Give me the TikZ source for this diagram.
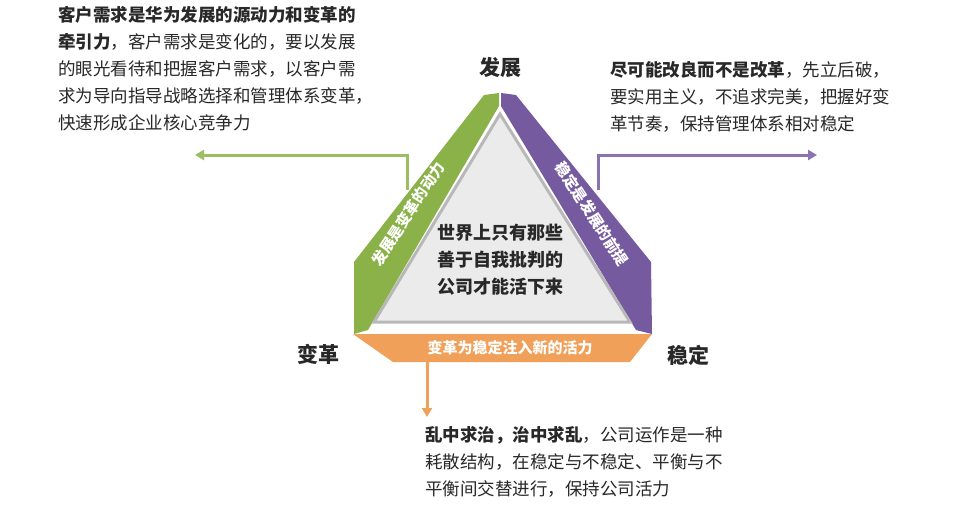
\documentclass[tikz,border=0pt]{standalone}
\usepackage{fontspec}
\setmainfont{Noto Sans CJK SC}
\usetikzlibrary{arrows.meta}
\definecolor{gr}{RGB}{138,178,72}
\definecolor{pu}{RGB}{118,90,160}
\definecolor{or}{RGB}{240,160,88}
\definecolor{txt}{RGB}{40,40,40}
\tikzset{x=1pt,y=-1pt,
 blk/.style={anchor=north west,align=left,font=\fontsize{17.5}{27}\selectfont,text=txt,inner sep=0pt},
 corner/.style={font=\bfseries\fontsize{21}{24}\selectfont,text=txt},
 band/.style={text=white,font=\bfseries\fontsize{15}{17}\selectfont,inner sep=1pt},
 conn/.style={line width=3pt,-{Triangle[length=9pt,width=10pt]}}}
\begin{document}
\begin{tikzpicture}
\useasboundingbox (0,0) rectangle (971,514);
% connectors
\coordinate (gs) at (407,190); \coordinate (gk) at (407,155); \coordinate (ge) at (195,155);
\draw[conn,gr!85] (gs) -- (gk) -- (ge);
\coordinate (ps) at (598,190); \coordinate (pk) at (598,155); \coordinate (pe) at (817,155);
\draw[conn,pu!85] (ps) -- (pk) -- (pe);
\coordinate (os) at (427,360); \coordinate (oe) at (427,417);
\draw[conn,or] (os) -- (oe);
% bands
\fill[gr] (499,93) -- (484,95) -- (354,262) -- (354,334) -- (368,330) -- (499,106) -- cycle;
\fill[pu] (501,93) -- (516,95) -- (651,262) -- (652,334) -- (636,330) -- (501,106) -- cycle;
\fill[or] (353,334) -- (652,334) -- (630,362) -- (393,362) -- cycle;
% inner triangle
\filldraw[fill=black!8,draw=black!28,line width=3pt] (500,114) -- (374,322) -- (630,322) -- cycle;
\node[band,rotate=57] (gt) at (408,214) {发展是变革的动力};
\node[band,rotate=-57] (pt) at (592,214) {稳定是发展的前提};
\node[band] (ot) at (510,348) {变革为稳定注入新的活力};
\node[align=center,font=\bfseries\fontsize{18}{27}\selectfont,text=txt] (c) at (500,260) {世界上只有那些\\善于自我批判的\\公司才能活下来};
\node[corner] (fz) at (500,68) {发展};
\node[corner] (bg) at (318,354) {变革};
\node[corner] (wd) at (688,355) {稳定};
\node[blk] (t1) at (58,6) {\textbf{客户需求是华为发展的源动力和变革的}\\\textbf{牵引力}，客户需求是变化的，要以发展\\的眼光看待和把握客户需求，以客户需\\求为导向指导战略选择和管理体系变革，\\快速形成企业核心竞争力};
\node[blk] (t2) at (610,61) {\textbf{尽可能改良而不是改革}，先立后破，\\要实用主义，不追求完美，把握好变\\革节奏，保持管理体系相对稳定};
\node[blk] (t3) at (425,426) {\textbf{乱中求治，治中求乱}，公司运作是一种\\耗散结构，在稳定与不稳定、平衡与不\\平衡间交替进行，保持公司活力};
\end{tikzpicture}
\end{document}
